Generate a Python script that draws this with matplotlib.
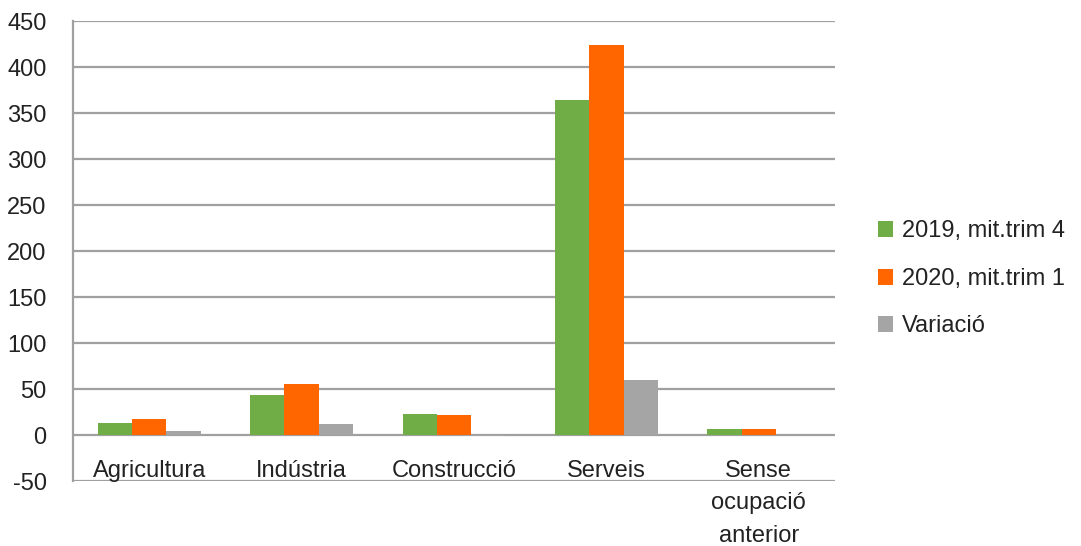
import numpy as np
import matplotlib.pyplot as plt
from matplotlib.patches import Patch

plt.rcParams['font.family'] = ['Liberation Sans', 'DejaVu Sans']
plt.rcParams['axes.unicode_minus'] = False

categories = ['Agricultura', 'Indústria', 'Construcció', 'Serveis', 'Sense\nocupació\nanterior']
series_names = ['2019, mit.trim 4', '2020, mit.trim 1', 'Variació']
v2019 = [13.3, 43.0, 23.0, 364.0, 6.7]
v2020 = [17.6, 55.7, 22.0, 424.0, 6.7]
variacio = [4.5, 12.2, -1.0, 59.5, 0.0]
colors = ['#70AD47', '#FF6600', '#A5A5A5']

fig = plt.figure(figsize=(10.81, 5.46), dpi=100)
ax = fig.add_axes([73 / 1081, 1 - 481 / 546, (835 - 73) / 1081, (481 - 21) / 546])

x = np.arange(len(categories))
w = 0.225
for k, vals in enumerate([v2019, v2020, variacio]):
    ax.bar(x + (k - 1) * w, vals, width=w, color=colors[k], zorder=3)

grid_col = '#A0A0A0'
ax.set_xlim(-0.5, len(categories) - 0.5)
ax.set_ylim(-50, 450)
ax.set_yticks(np.arange(-50, 451, 50))
ax.yaxis.grid(True, color=grid_col, linewidth=1.6, zorder=0)
ax.tick_params(axis='y', length=0, pad=19, labelsize=17, labelcolor='#222222')
ax.set_xticks([])
for s in ['top', 'right', 'bottom']:
    ax.spines[s].set_visible(False)
ax.spines['left'].set_color(grid_col)
ax.spines['left'].set_linewidth(1.6)

for i, lab in enumerate(categories):
    ax.text(i, -27, lab, ha='center', va='top', fontsize=17, color='#222222',
            linespacing=1.62)

handles = [Patch(facecolor=c) for c in colors]
fig.legend(handles, series_names, loc='center left', bbox_to_anchor=(878 / 1081, 1 - 279 / 546),
           frameon=False, fontsize=17, handlelength=0.65, handleheight=0.65,
           handletextpad=0.35, labelspacing=1.08, borderpad=0, borderaxespad=0,
           labelcolor='#222222')

fig.savefig('out.png', dpi=100)
